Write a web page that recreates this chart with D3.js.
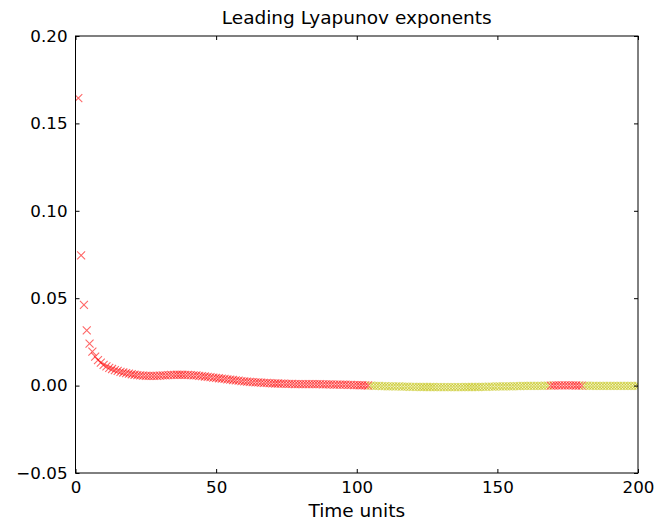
<!DOCTYPE html>
<html>
<head>
<meta charset="utf-8">
<script src="https://cdn.jsdelivr.net/npm/d3@7"></script>
<style>
  body { margin: 0; background: #fff; }
  text { font-family: "DejaVu Sans", sans-serif; fill: #000; }
</style>
</head>
<body>
<svg id="chart" width="667" height="525"></svg>
<script>
// leading exponent, one value per time unit (t = 1 .. 200)
const exponents = [
  0.1645, 0.0745, 0.0462, 0.0316, 0.0240, 0.0195, 0.0166, 0.0146, 0.0131, 0.0119,
  0.0110, 0.0102, 0.0095, 0.0089, 0.0084, 0.0079, 0.0075, 0.0071, 0.0068, 0.0065,
  0.0062, 0.0060, 0.0058, 0.0057, 0.0056, 0.0055, 0.0055, 0.0055, 0.0056, 0.0057,
  0.0058, 0.0059, 0.0060, 0.0061, 0.0061, 0.0062, 0.0062, 0.0062, 0.0061, 0.0061,
  0.0060, 0.0059, 0.0058, 0.0056, 0.0054, 0.0052, 0.0050, 0.0048, 0.0046, 0.0044,
  0.0042, 0.0040, 0.0038, 0.0036, 0.0034, 0.0032, 0.0030, 0.0028, 0.0026, 0.0024,
  0.0023, 0.0021, 0.0020, 0.0019, 0.0018, 0.0017, 0.0016, 0.0015, 0.0014, 0.0013,
  0.0012, 0.0012, 0.0011, 0.0011, 0.0010, 0.0010, 0.0010, 0.0009, 0.0009, 0.0009,
  0.0009, 0.0009, 0.0008, 0.0008, 0.0008, 0.0008, 0.0008, 0.0007, 0.0007, 0.0007,
  0.0007, 0.0006, 0.0006, 0.0006, 0.0005, 0.0005, 0.0004, 0.0004, 0.0003, 0.0003,
  0.0002, 0.0002, 0.0001, 0.00005, -0.00005, -0.0001, -0.0002, -0.0002, -0.0003, -0.0003,
  -0.0004, -0.0004, -0.0005, -0.0005, -0.0005, -0.0006, -0.0006, -0.0006, -0.0007, -0.0007,
  -0.0007, -0.0007, -0.0008, -0.0008, -0.0008, -0.0008, -0.0008, -0.0009, -0.0009, -0.0009,
  -0.0009, -0.0009, -0.0009, -0.0009, -0.0009, -0.0009, -0.0009, -0.0009, -0.0008, -0.0008,
  -0.0008, -0.0008, -0.0008, -0.0007, -0.0007, -0.0007, -0.0006, -0.0006, -0.0006, -0.0005,
  -0.0005, -0.0005, -0.0004, -0.0004, -0.0004, -0.0003, -0.0003, -0.0003, -0.0002, -0.0002,
  -0.0002, -0.0002, -0.0001, -0.0001, -0.0001, -0.0001, -0.00005, -0.00002, 0.00002, 0.00005,
  0.0001, 0.0001, 0.0001, 0.0001, 0.0001, 0.0001, 0.00008, 0.00005, 0.00003, 0.00001,
  -0.00002, -0.00005, -0.0001, -0.0001, -0.0001, -0.0001, -0.0001, -0.0001, -0.0001, -0.0001,
  -0.0001, -0.0001, -0.0002, -0.0002, -0.0002, -0.0002, -0.0002, -0.0002, -0.0002, -0.0002
]
const xTicks = [0, 50, 100, 150, 200]
const yTicks = [-0.05, 0, 0.05, 0.10, 0.15, 0.20]
const titleText = 'Leading Lyapunov exponents'
const xLabel = 'Time units'

const W = 667, H = 525
const m = {left: 75.5, right: 29, top: 36, bottom: 52}
const iw = W - m.left - m.right, ih = H - m.top - m.bottom

const svg = d3.select('#chart')
const g = svg.append('g').attr('transform', `translate(${m.left},${m.top})`)

const x = d3.scaleLinear().domain([0, 200]).range([0, iw])
const y = d3.scaleLinear().domain([-0.05, 0.20]).range([ih, 0])

svg.append('defs').append('clipPath').attr('id', 'clip')
  .append('rect').attr('width', iw).attr('height', ih)

// red where the exponent is positive, yellow where it has gone negative
const pts = exponents.map((v, i) => ({t: i + 1, v: v}))
const s = 4
g.append('g').attr('clip-path', 'url(#clip)')
  .selectAll('path').data(pts).enter().append('path')
    .attr('d', (d) => {
      let cx = x(d.t), cy = y(d.v)
      return `M${cx - s},${cy - s}L${cx + s},${cy + s}M${cx - s},${cy + s}L${cx + s},${cy - s}`
    })
    .attr('fill', 'none')
    .attr('stroke', (d) => d.v >= 0 ? '#ff0000' : '#bfbf00')
    .attr('stroke-opacity', 0.6)
    .attr('stroke-width', 1.1)

// axes: ticks point inwards, mirrored on top/right like matplotlib classic
const tickFmt = d3.format('.2f')
const yFmt = (d) => (d < 0 ? '\u2212' + tickFmt(-d) : tickFmt(d))

const xb = g.append('g').attr('transform', `translate(0,${ih})`)
  .call(d3.axisBottom(x).tickValues(xTicks).tickSizeInner(-4).tickSizeOuter(0).tickPadding(8))
const xt = g.append('g')
  .call(d3.axisTop(x).tickValues(xTicks).tickSizeInner(-4).tickSizeOuter(0).tickFormat(''))
const yl = g.append('g')
  .call(d3.axisLeft(y).tickValues(yTicks).tickSizeInner(-4).tickSizeOuter(0).tickPadding(8).tickFormat(yFmt))
const yr = g.append('g').attr('transform', `translate(${iw},0)`)
  .call(d3.axisRight(y).tickValues(yTicks).tickSizeInner(-4).tickSizeOuter(0).tickFormat(''))

;[xb, xt, yl, yr].forEach((a) => {
  a.select('.domain').remove()
  a.selectAll('line').attr('stroke', '#000').attr('stroke-width', 1)
  a.selectAll('text').style('font-family', '"DejaVu Sans", sans-serif').style('font-size', '16.7px').attr('fill', '#000')
})
xb.selectAll('text').attr('dy', '0.71em')

g.append('rect').attr('width', iw).attr('height', ih)
  .attr('fill', 'none').attr('stroke', '#000').attr('stroke-width', 1)

svg.append('text').attr('x', m.left + iw / 2).attr('y', 23.5)
  .attr('text-anchor', 'middle').style('font-size', '18.5px').text(titleText)

svg.append('text').attr('x', m.left + iw / 2).attr('y', 517)
  .attr('text-anchor', 'middle').style('font-size', '18.5px').text(xLabel)
</script>
</body>
</html>
